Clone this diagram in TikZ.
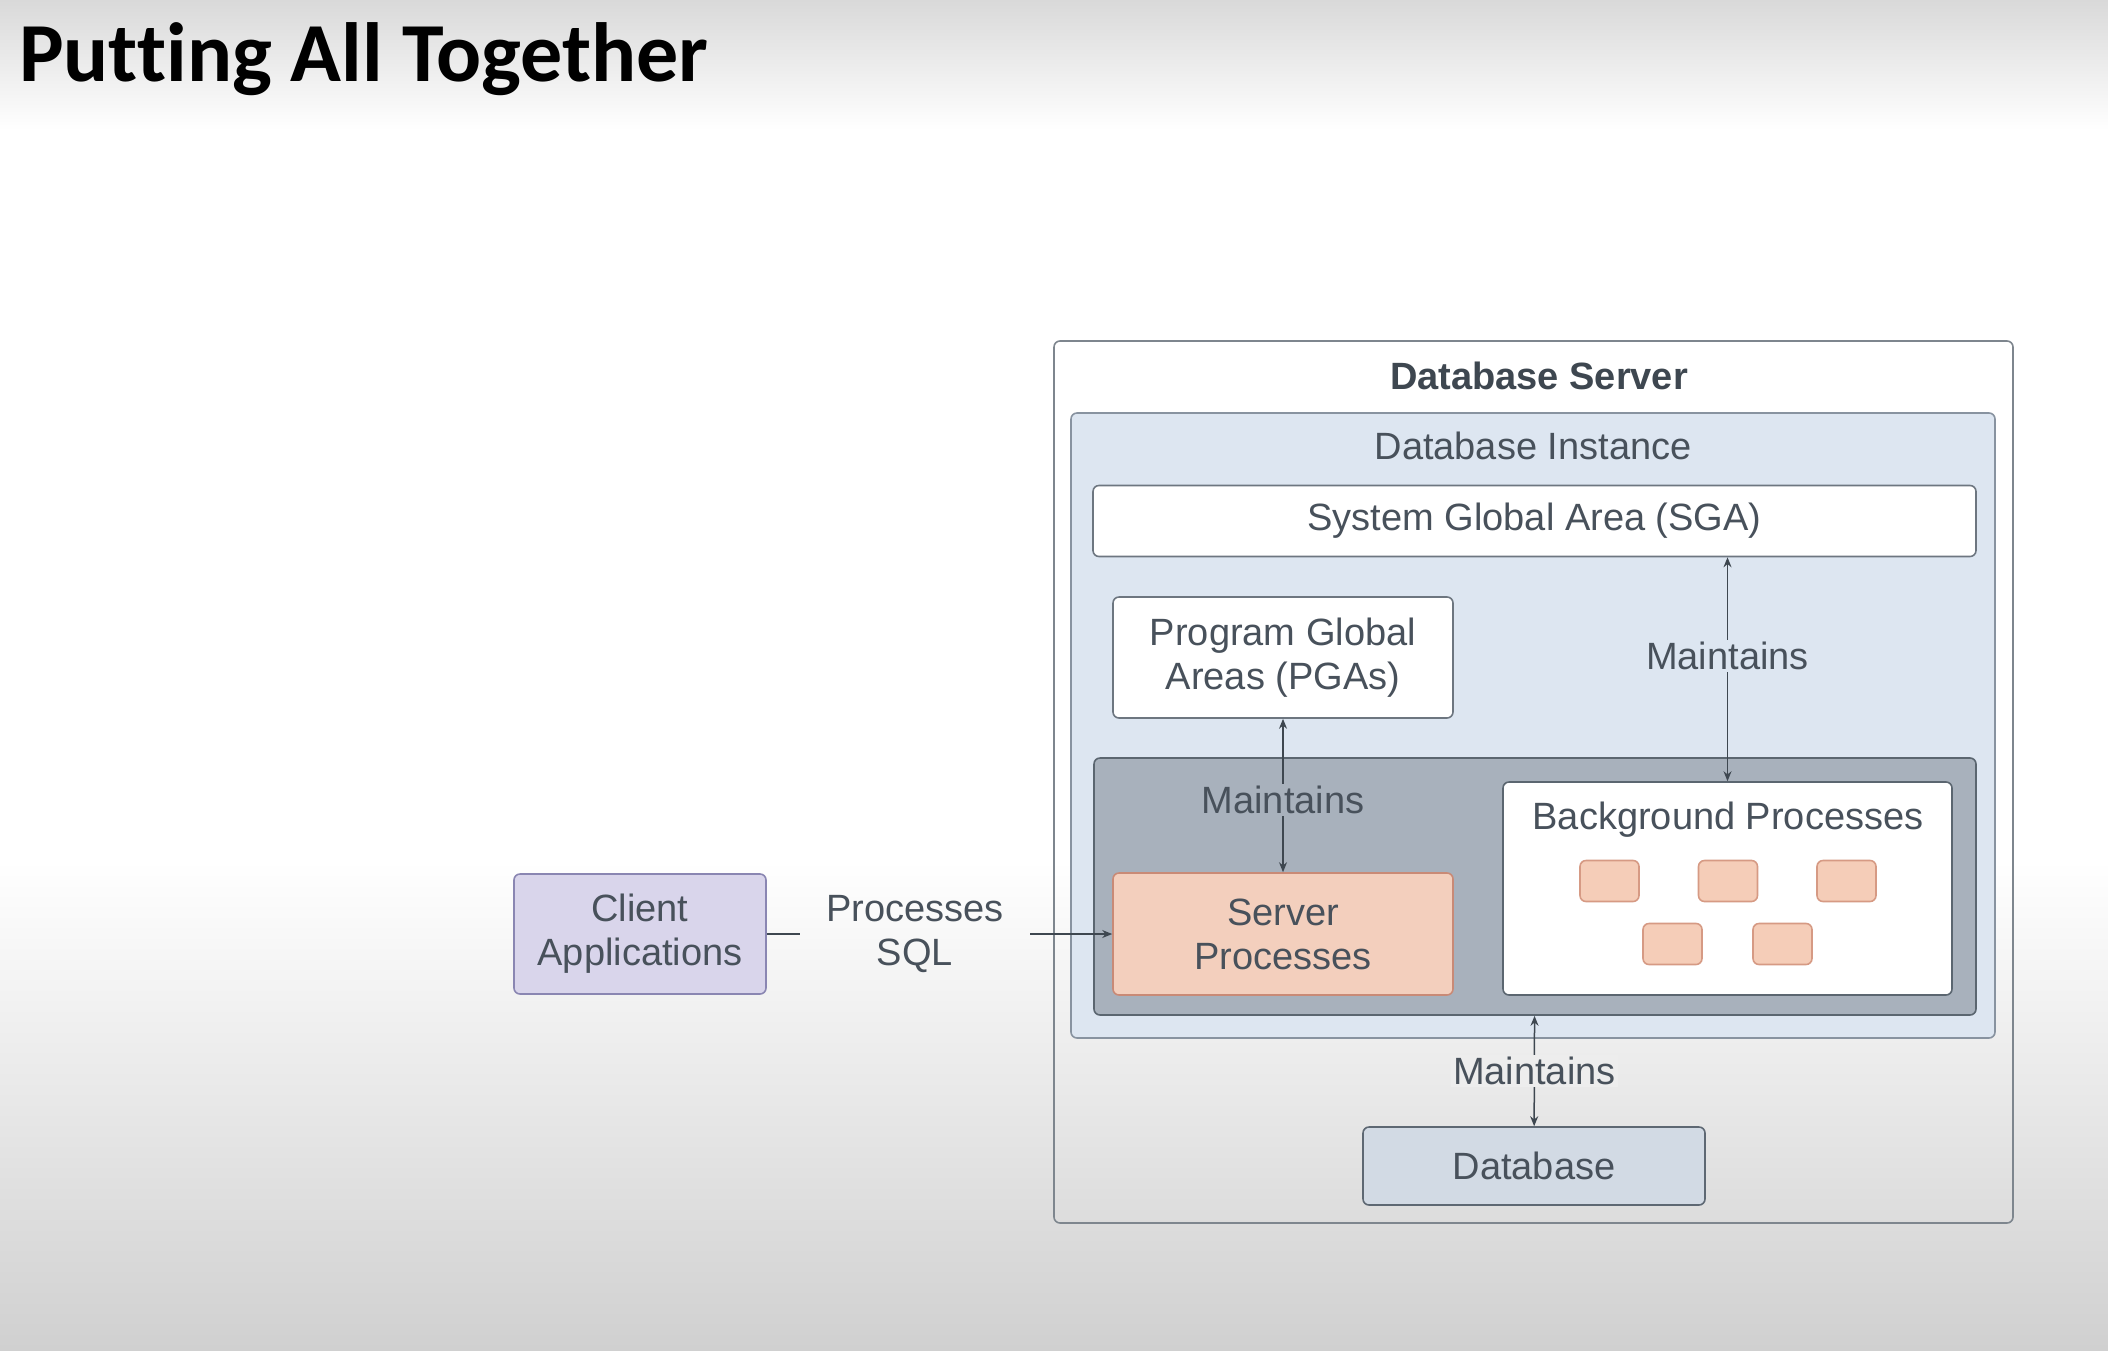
\documentclass[tikz,border=0pt]{standalone}
\usepackage{fontspec}
\setmainfont{Liberation Sans}
\newfontfamily\titlefont[Ligatures=NoCommon]{Carlito}
\usetikzlibrary{arrows.meta}

\definecolor{bgtop}{HTML}{D9D9D9}
\definecolor{bgbottom}{HTML}{D0D0D0}
\definecolor{txtgray}{HTML}{48515B}
\definecolor{linegray}{HTML}{3E4750}
\definecolor{outerborder}{HTML}{7E868E}
\definecolor{instfill}{HTML}{DDE6F1}
\definecolor{instborder}{HTML}{8893A0}
\definecolor{procfill}{HTML}{A8B1BC}
\definecolor{procborder}{HTML}{5B6670}
\definecolor{srvfill}{HTML}{F3CFBD}
\definecolor{srvborder}{HTML}{C98A76}
\definecolor{smallfill}{HTML}{F5CDB8}
\definecolor{smallborder}{HTML}{D69A84}
\definecolor{clientfill}{HTML}{D9D5EB}
\definecolor{clientborder}{HTML}{8A86B2}
\definecolor{dbfill}{HTML}{D2DAE4}
\definecolor{dbborder}{HTML}{5E6873}

\begin{document}
\begin{tikzpicture}[x=1pt, y=-1pt,
    box/.style={rounded corners=6pt, line width=1.6pt, inner sep=0pt},
    txt/.style={font=\fontsize{38}{44}\selectfont, text=txtgray, align=center, inner sep=2pt},
    arr/.style={draw=linegray, line width=1.5pt, >={Stealth[length=10pt,width=8pt]}},
  ]
  \useasboundingbox (0,0) rectangle (2108,1350);
  % slide background
  \fill[white] (0,0) rectangle (2108,1350);
  \shade[top color=bgtop, bottom color=white] (0,0) rectangle (2108,130);
  \shade[top color=white, bottom color=bgbottom] (0,860) rectangle (2108,1350);
  \node[anchor=base west, inner sep=0pt, font=\titlefont\bfseries\fontsize{84}{90}\selectfont] (title) at (19,81) {Putting All Together};

  % containers
  \node[box, draw=outerborder, minimum width=959pt, minimum height=882pt] (dbserver) at (1533.5,782) {};
  \node[txt, font=\bfseries\fontsize{38}{44}\selectfont, text=linegray] (serverlbl) at (1539,376) {Database Server};
  \node[box, draw=instborder, fill=instfill, minimum width=924pt, minimum height=625pt] (inst) at (1533,725.5) {};
  \node[txt] (instlbl) at (1533,446) {Database Instance};
  \node[box, txt, draw=instborder!80!black, fill=white, minimum width=883pt, minimum height=71pt] (sga) at (1534.5,521) {System Global Area (SGA)};
  \node[box, txt, draw=instborder!80!black, fill=white, minimum width=340pt, minimum height=121pt] (pga) at (1283,657.5) {Program Global\\Areas (PGAs)};
  \node[box, draw=procborder, fill=procfill, minimum width=882pt, minimum height=257pt] (procs) at (1535,886.5) {};
  \node[box, txt, draw=srvborder, fill=srvfill, minimum width=340pt, minimum height=122pt] (srv) at (1283,934) {Server\\Processes};
  \node[box, draw=procborder, fill=white, minimum width=449pt, minimum height=213pt] (bg) at (1727.5,888.5) {};
  \node[txt] (bglbl) at (1728,820) {Background Processes};
  \foreach \x/\y [count=\i] in {1609.5/881, 1728/881, 1846.5/881, 1672.5/944, 1782.5/944}
    \node[box, draw=smallborder, fill=smallfill, minimum width=59pt, minimum height=41pt] (bp\i) at (\x,\y) {};
  \node[box, txt, draw=dbborder, fill=dbfill, minimum width=342pt, minimum height=78pt] (db) at (1534,1166) {Database};
  \node[box, txt, draw=clientborder, fill=clientfill, minimum width=252pt, minimum height=120pt] (client) at (640,934) {Client\\Applications};

  % connectors
  \node[txt, minimum width=230pt] (sql) at (915,934) {Processes\\SQL};
  \draw[arr] (client) -- (sql);
  \draw[arr, ->] (sql) -- (srv);
  \draw[arr, <->] (bg.north |- sga.south) -- node[txt, fill=instfill, pos=0.44] {Maintains} (bg.north);
  \draw[arr, <->] (pga) -- node[txt, fill=procfill, pos=0.53] {Maintains} (srv);
  \draw[arr, <->] (procs) -- node[txt, fill=black!7] {Maintains} (db);
\end{tikzpicture}
\end{document}
